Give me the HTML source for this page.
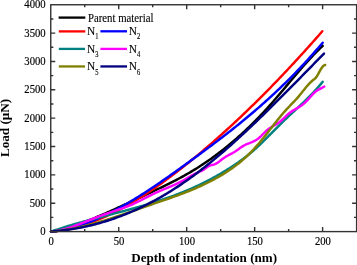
<!DOCTYPE html>
<html><head><meta charset="utf-8"><style>
html,body{margin:0;padding:0;background:#fff;width:357px;height:265px;overflow:hidden}
svg{display:block;will-change:transform}
text{font-family:"Liberation Serif",serif;fill:#000}
</style></head><body>
<svg width="357" height="265" viewBox="0 0 357 265">
<rect width="357" height="265" fill="#fff"/>
<g fill="none" stroke-width="2.45" stroke-linejoin="round" stroke-linecap="round">
<path d="M51.00,231.52 L52.50,231.37 L54.00,231.20 L55.50,230.98 L57.00,230.74 L58.50,230.46 L60.00,230.15 L61.50,229.82 L63.00,229.46 L64.50,229.07 L66.00,228.65 L67.50,228.22 L69.00,227.76 L70.50,227.28 L72.00,226.79 L73.50,226.27 L75.00,225.74 L76.50,225.20 L78.00,224.64 L79.50,224.07 L81.00,223.50 L82.50,222.91 L84.00,222.31 L85.50,221.71 L87.00,221.11 L88.50,220.50 L90.00,219.88 L91.50,219.26 L93.00,218.64 L94.50,218.01 L96.00,217.38 L97.50,216.74 L99.00,216.10 L100.50,215.45 L102.00,214.81 L103.50,214.15 L105.00,213.50 L106.50,212.84 L108.00,212.18 L109.50,211.51 L111.00,210.84 L112.50,210.17 L114.00,209.50 L115.50,208.82 L117.00,208.14 L118.50,207.46 L120.00,206.78 L121.50,206.09 L123.00,205.41 L124.50,204.72 L126.00,204.02 L127.50,203.33 L129.00,202.64 L130.50,201.94 L132.00,201.24 L133.50,200.54 L135.00,199.84 L136.50,199.14 L138.00,198.44 L139.50,197.73 L141.00,197.03 L142.50,196.32 L144.00,195.61 L145.50,194.90 L147.00,194.20 L148.50,193.49 L150.00,192.78 L151.50,192.07 L153.00,191.36 L154.50,190.65 L156.00,189.94 L157.50,189.22 L159.00,188.51 L160.50,187.79 L162.00,187.07 L163.50,186.34 L165.00,185.61 L166.50,184.88 L168.00,184.14 L169.50,183.39 L171.00,182.64 L172.50,181.89 L174.00,181.12 L175.50,180.35 L177.00,179.57 L178.50,178.77 L180.00,177.97 L181.50,177.16 L183.00,176.34 L184.50,175.51 L186.00,174.67 L187.50,173.81 L189.00,172.95 L190.50,172.07 L192.00,171.17 L193.50,170.27 L195.00,169.35 L196.50,168.42 L198.00,167.48 L199.50,166.52 L201.00,165.55 L202.50,164.56 L204.00,163.57 L205.50,162.56 L207.00,161.53 L208.50,160.50 L210.00,159.45 L211.50,158.38 L213.00,157.30 L214.50,156.21 L216.00,155.10 L217.50,153.98 L219.00,152.85 L220.50,151.70 L222.00,150.54 L223.50,149.36 L225.00,148.16 L226.50,146.96 L228.00,145.73 L229.50,144.50 L231.00,143.25 L232.50,141.98 L234.00,140.70 L235.50,139.40 L237.00,138.09 L238.50,136.76 L240.00,135.42 L241.50,134.06 L243.00,132.68 L244.50,131.29 L246.00,129.89 L247.50,128.46 L249.00,127.03 L250.50,125.57 L252.00,124.10 L253.50,122.61 L255.00,121.11 L256.50,119.59 L258.00,118.06 L259.50,116.50 L261.00,114.93 L262.50,113.35 L264.00,111.74 L265.50,110.12 L267.00,108.49 L268.50,106.83 L270.00,105.16 L271.50,103.47 L273.00,101.77 L274.50,100.04 L276.00,98.31 L277.50,96.56 L279.00,94.80 L280.50,93.04 L282.00,91.26 L283.50,89.48 L285.00,87.70 L286.50,85.91 L288.00,84.12 L289.50,82.33 L291.00,80.54 L292.50,78.76 L294.00,76.98 L295.50,75.21 L297.00,73.44 L298.50,71.69 L300.00,69.94 L301.50,68.21 L303.00,66.49 L304.50,64.79 L306.00,63.11 L307.50,61.44 L309.00,59.80 L310.50,58.17 L312.00,56.57 L313.50,54.99 L315.00,53.44 L316.50,51.91 L318.00,50.40 L319.50,48.93 L321.00,47.49 L322.50,46.07 L322.70,45.89" stroke="#000000"/>
<path d="M51.00,231.61 L52.50,231.48 L54.00,231.33 L55.50,231.16 L57.00,230.97 L58.50,230.77 L60.00,230.55 L61.50,230.32 L63.00,230.07 L64.50,229.80 L66.00,229.51 L67.50,229.21 L69.00,228.89 L70.50,228.56 L72.00,228.21 L73.50,227.85 L75.00,227.47 L76.50,227.07 L78.00,226.66 L79.50,226.23 L81.00,225.79 L82.50,225.33 L84.00,224.86 L85.50,224.38 L87.00,223.88 L88.50,223.36 L90.00,222.83 L91.50,222.29 L93.00,221.73 L94.50,221.16 L96.00,220.57 L97.50,219.97 L99.00,219.36 L100.50,218.73 L102.00,218.09 L103.50,217.44 L105.00,216.77 L106.50,216.09 L108.00,215.40 L109.50,214.69 L111.00,213.97 L112.50,213.24 L114.00,212.50 L115.50,211.74 L117.00,210.97 L118.50,210.19 L120.00,209.40 L121.50,208.60 L123.00,207.78 L124.50,206.96 L126.00,206.12 L127.50,205.27 L129.00,204.41 L130.50,203.54 L132.00,202.65 L133.50,201.76 L135.00,200.86 L136.50,199.94 L138.00,199.02 L139.50,198.08 L141.00,197.13 L142.50,196.18 L144.00,195.21 L145.50,194.24 L147.00,193.25 L148.50,192.26 L150.00,191.25 L151.50,190.24 L153.00,189.22 L154.50,188.18 L156.00,187.14 L157.50,186.09 L159.00,185.03 L160.50,183.97 L162.00,182.89 L163.50,181.81 L165.00,180.72 L166.50,179.61 L168.00,178.51 L169.50,177.39 L171.00,176.27 L172.50,175.13 L174.00,174.00 L175.50,172.85 L177.00,171.70 L178.50,170.53 L180.00,169.37 L181.50,168.19 L183.00,167.01 L184.50,165.82 L186.00,164.63 L187.50,163.43 L189.00,162.22 L190.50,161.01 L192.00,159.79 L193.50,158.56 L195.00,157.33 L196.50,156.09 L198.00,154.85 L199.50,153.59 L201.00,152.34 L202.50,151.07 L204.00,149.81 L205.50,148.53 L207.00,147.25 L208.50,145.96 L210.00,144.67 L211.50,143.37 L213.00,142.06 L214.50,140.75 L216.00,139.43 L217.50,138.10 L219.00,136.77 L220.50,135.44 L222.00,134.09 L223.50,132.75 L225.00,131.39 L226.50,130.03 L228.00,128.66 L229.50,127.29 L231.00,125.91 L232.50,124.53 L234.00,123.14 L235.50,121.74 L237.00,120.34 L238.50,118.93 L240.00,117.52 L241.50,116.10 L243.00,114.67 L244.50,113.24 L246.00,111.80 L247.50,110.36 L249.00,108.91 L250.50,107.46 L252.00,105.99 L253.50,104.53 L255.00,103.06 L256.50,101.58 L258.00,100.09 L259.50,98.61 L261.00,97.11 L262.50,95.61 L264.00,94.10 L265.50,92.59 L267.00,91.07 L268.50,89.55 L270.00,88.02 L271.50,86.49 L273.00,84.95 L274.50,83.40 L276.00,81.85 L277.50,80.29 L279.00,78.73 L280.50,77.16 L282.00,75.59 L283.50,74.01 L285.00,72.42 L286.50,70.83 L288.00,69.24 L289.50,67.63 L291.00,66.03 L292.50,64.42 L294.00,62.80 L295.50,61.17 L297.00,59.55 L298.50,57.91 L300.00,56.27 L301.50,54.63 L303.00,52.98 L304.50,51.32 L306.00,49.66 L307.50,48.00 L309.00,46.32 L310.50,44.65 L312.00,42.97 L313.50,41.28 L315.00,39.59 L316.50,37.89 L318.00,36.19 L319.50,34.48 L321.00,32.76 L322.30,31.27" stroke="#ff0000"/>
<path d="M51.00,231.63 L52.50,231.47 L54.00,231.30 L55.50,231.10 L57.00,230.89 L58.50,230.65 L60.00,230.40 L61.50,230.13 L63.00,229.85 L64.50,229.54 L66.00,229.22 L67.50,228.88 L69.00,228.52 L70.50,228.15 L72.00,227.76 L73.50,227.35 L75.00,226.93 L76.50,226.49 L78.00,226.03 L79.50,225.56 L81.00,225.07 L82.50,224.57 L84.00,224.05 L85.50,223.52 L87.00,222.97 L88.50,222.41 L90.00,221.83 L91.50,221.24 L93.00,220.63 L94.50,220.02 L96.00,219.38 L97.50,218.74 L99.00,218.08 L100.50,217.41 L102.00,216.72 L103.50,216.03 L105.00,215.32 L106.50,214.59 L108.00,213.86 L109.50,213.11 L111.00,212.36 L112.50,211.59 L114.00,210.81 L115.50,210.02 L117.00,209.22 L118.50,208.40 L120.00,207.58 L121.50,206.75 L123.00,205.91 L124.50,205.05 L126.00,204.19 L127.50,203.32 L129.00,202.44 L130.50,201.55 L132.00,200.65 L133.50,199.74 L135.00,198.83 L136.50,197.90 L138.00,196.97 L139.50,196.03 L141.00,195.08 L142.50,194.13 L144.00,193.17 L145.50,192.20 L147.00,191.22 L148.50,190.24 L150.00,189.25 L151.50,188.26 L153.00,187.25 L154.50,186.25 L156.00,185.24 L157.50,184.22 L159.00,183.19 L160.50,182.17 L162.00,181.13 L163.50,180.10 L165.00,179.05 L166.50,178.01 L168.00,176.96 L169.50,175.90 L171.00,174.85 L172.50,173.78 L174.00,172.72 L175.50,171.65 L177.00,170.58 L178.50,169.51 L180.00,168.43 L181.50,167.36 L183.00,166.28 L184.50,165.20 L186.00,164.11 L187.50,163.03 L189.00,161.94 L190.50,160.86 L192.00,159.77 L193.50,158.68 L195.00,157.58 L196.50,156.49 L198.00,155.39 L199.50,154.29 L201.00,153.19 L202.50,152.09 L204.00,150.98 L205.50,149.87 L207.00,148.76 L208.50,147.64 L210.00,146.52 L211.50,145.40 L213.00,144.27 L214.50,143.14 L216.00,142.01 L217.50,140.87 L219.00,139.73 L220.50,138.59 L222.00,137.43 L223.50,136.28 L225.00,135.12 L226.50,133.95 L228.00,132.78 L229.50,131.61 L231.00,130.43 L232.50,129.24 L234.00,128.05 L235.50,126.86 L237.00,125.65 L238.50,124.45 L240.00,123.23 L241.50,122.01 L243.00,120.78 L244.50,119.55 L246.00,118.31 L247.50,117.06 L249.00,115.81 L250.50,114.55 L252.00,113.28 L253.50,112.00 L255.00,110.72 L256.50,109.43 L258.00,108.13 L259.50,106.82 L261.00,105.51 L262.50,104.19 L264.00,102.85 L265.50,101.51 L267.00,100.17 L268.50,98.81 L270.00,97.44 L271.50,96.07 L273.00,94.68 L274.50,93.29 L276.00,91.89 L277.50,90.48 L279.00,89.05 L280.50,87.62 L282.00,86.18 L283.50,84.73 L285.00,83.26 L286.50,81.79 L288.00,80.31 L289.50,78.81 L291.00,77.31 L292.50,75.79 L294.00,74.27 L295.50,72.73 L297.00,71.18 L298.50,69.62 L300.00,68.04 L301.50,66.46 L303.00,64.86 L304.50,63.25 L306.00,61.63 L307.50,60.00 L309.00,58.35 L310.50,56.69 L312.00,55.02 L313.50,53.33 L315.00,51.64 L316.50,49.92 L318.00,48.20 L319.50,46.46 L321.00,44.71 L322.50,42.95 L322.70,42.71" stroke="#0000ff"/>
<path d="M51.00,231.55 L52.50,231.04 L54.00,230.53 L55.50,230.03 L57.00,229.54 L58.50,229.05 L60.00,228.57 L61.50,228.09 L63.00,227.62 L64.50,227.15 L66.00,226.69 L67.50,226.23 L69.00,225.78 L70.50,225.33 L72.00,224.89 L73.50,224.45 L75.00,224.02 L76.50,223.59 L78.00,223.16 L79.50,222.74 L81.00,222.32 L82.50,221.90 L84.00,221.49 L85.50,221.07 L87.00,220.67 L88.50,220.26 L90.00,219.86 L91.50,219.46 L93.00,219.06 L94.50,218.66 L96.00,218.26 L97.50,217.87 L99.00,217.47 L100.50,217.08 L102.00,216.69 L103.50,216.30 L105.00,215.91 L106.50,215.52 L108.00,215.13 L109.50,214.74 L111.00,214.35 L112.50,213.96 L114.00,213.57 L115.50,213.18 L117.00,212.79 L118.50,212.40 L120.00,212.00 L121.50,211.61 L123.00,211.21 L124.50,210.81 L126.00,210.41 L127.50,210.01 L129.00,209.60 L130.50,209.19 L132.00,208.79 L133.50,208.37 L135.00,207.96 L136.50,207.54 L138.00,207.12 L139.50,206.69 L141.00,206.26 L142.50,205.83 L144.00,205.39 L145.50,204.95 L147.00,204.51 L148.50,204.06 L150.00,203.60 L151.50,203.14 L153.00,202.68 L154.50,202.21 L156.00,201.73 L157.50,201.25 L159.00,200.76 L160.50,200.27 L162.00,199.77 L163.50,199.27 L165.00,198.76 L166.50,198.24 L168.00,197.72 L169.50,197.18 L171.00,196.65 L172.50,196.10 L174.00,195.55 L175.50,194.98 L177.00,194.42 L178.50,193.84 L180.00,193.25 L181.50,192.66 L183.00,192.06 L184.50,191.45 L186.00,190.83 L187.50,190.20 L189.00,189.56 L190.50,188.91 L192.00,188.26 L193.50,187.59 L195.00,186.91 L196.50,186.23 L198.00,185.53 L199.50,184.82 L201.00,184.10 L202.50,183.37 L204.00,182.63 L205.50,181.88 L207.00,181.12 L208.50,180.34 L210.00,179.56 L211.50,178.76 L213.00,177.95 L214.50,177.13 L216.00,176.29 L217.50,175.44 L219.00,174.58 L220.50,173.71 L222.00,172.82 L223.50,171.92 L225.00,171.01 L226.50,170.08 L228.00,169.14 L229.50,168.18 L231.00,167.21 L232.50,166.23 L234.00,165.23 L235.50,164.21 L237.00,163.18 L238.50,162.14 L240.00,161.08 L241.50,160.00 L243.00,158.90 L244.50,157.78 L246.00,156.63 L247.50,155.46 L249.00,154.27 L250.50,153.04 L252.00,151.79 L253.50,150.50 L255.00,149.18 L256.50,147.83 L258.00,146.44 L259.50,145.03 L261.00,143.59 L262.50,142.13 L264.00,140.65 L265.50,139.16 L267.00,137.66 L268.50,136.15 L270.00,134.63 L271.50,133.12 L273.00,131.61 L274.50,130.10 L276.00,128.59 L277.50,127.09 L279.00,125.60 L280.50,124.11 L282.00,122.64 L283.50,121.17 L285.00,119.71 L286.50,118.27 L288.00,116.84 L289.50,115.42 L291.00,114.02 L292.50,112.62 L294.00,111.23 L295.50,109.84 L297.00,108.45 L298.50,107.06 L300.00,105.66 L301.50,104.26 L303.00,102.84 L304.50,101.40 L306.00,99.94 L307.50,98.47 L309.00,96.97 L310.50,95.45 L312.00,93.89 L313.50,92.31 L315.00,90.70 L316.50,89.05 L318.00,87.37 L319.50,85.65 L321.00,83.88 L322.50,82.08 L322.70,81.83" stroke="#008080"/>
<path d="M51.00,231.48 L52.50,231.35 L54.00,231.18 L55.50,230.98 L57.00,230.74 L58.50,230.46 L60.00,230.16 L61.50,229.83 L63.00,229.47 L64.50,229.08 L66.00,228.67 L67.50,228.23 L69.00,227.78 L70.50,227.30 L72.00,226.80 L73.50,226.29 L75.00,225.76 L76.50,225.22 L78.00,224.66 L79.50,224.09 L81.00,223.52 L82.50,222.93 L84.00,222.34 L85.50,221.74 L87.00,221.15 L88.50,220.54 L90.00,219.94 L91.50,219.34 L93.00,218.75 L94.50,218.15 L96.00,217.57 L97.50,216.99 L99.00,216.42 L100.50,215.86 L102.00,215.31 L103.50,214.77 L105.00,214.25 L106.50,213.73 L108.00,213.22 L109.50,212.71 L111.00,212.21 L112.50,211.70 L114.00,211.20 L115.50,210.69 L117.00,210.19 L118.50,209.67 L120.00,209.15 L121.50,208.62 L123.00,208.08 L124.50,207.53 L126.00,206.96 L127.50,206.38 L129.00,205.78 L130.50,205.16 L132.00,204.52 L133.50,203.86 L135.00,203.17 L136.50,202.46 L138.00,201.73 L139.50,200.98 L141.00,200.22 L142.50,199.44 L144.00,198.67 L145.50,197.89 L147.00,197.11 L148.50,196.34 L150.00,195.58 L151.50,194.84 L153.00,194.12 L154.50,193.41 L156.00,192.73 L157.50,192.05 L159.00,191.40 L160.50,190.75 L162.00,190.10 L163.50,189.47 L165.00,188.84 L166.50,188.21 L168.00,187.58 L169.50,186.95 L171.00,186.31 L172.50,185.67 L174.00,185.01 L175.50,184.35 L177.00,183.66 L178.50,182.96 L180.00,182.22 L181.50,181.45 L183.00,180.64 L184.50,179.78 L186.00,178.90 L187.50,177.99 L189.00,177.09 L190.50,176.19 L192.00,175.32 L193.50,174.50 L195.00,173.72 L196.50,173.02 L198.00,172.38 L199.50,171.75 L201.00,171.08 L202.50,170.32 L204.00,169.42 L205.50,168.35 L207.00,167.24 L208.50,166.24 L210.00,165.49 L211.50,165.07 L213.00,164.78 L214.50,164.33 L216.00,163.62 L217.50,162.70 L219.00,161.63 L220.50,160.48 L222.00,159.31 L223.50,158.20 L225.00,157.19 L226.50,156.29 L228.00,155.45 L229.50,154.65 L231.00,153.86 L232.50,153.05 L234.00,152.19 L235.50,151.25 L237.00,150.23 L238.50,149.18 L240.00,148.12 L241.50,147.08 L243.00,146.11 L244.50,145.24 L246.00,144.49 L247.50,143.85 L249.00,143.28 L250.50,142.72 L252.00,142.12 L253.50,141.45 L255.00,140.69 L256.50,139.81 L258.00,138.77 L259.50,137.51 L261.00,136.11 L262.50,134.61 L264.00,133.09 L265.50,131.61 L267.00,130.24 L268.50,129.04 L270.00,127.97 L271.50,127.00 L273.00,126.10 L274.50,125.23 L276.00,124.34 L277.50,123.41 L279.00,122.39 L280.50,121.25 L282.00,119.95 L283.50,118.53 L285.00,117.05 L286.50,115.59 L288.00,114.22 L289.50,112.98 L291.00,111.88 L292.50,110.88 L294.00,109.96 L295.50,109.08 L297.00,108.22 L298.50,107.35 L300.00,106.44 L301.50,105.45 L303.00,104.35 L304.50,103.11 L306.00,101.69 L307.50,100.11 L309.00,98.45 L310.50,96.75 L312.00,95.08 L313.50,93.51 L315.00,92.09 L316.50,90.88 L318.00,89.89 L319.50,89.06 L321.00,88.30 L322.50,87.55 L324.00,86.73 L324.30,86.55" stroke="#ff00ff"/>
<path d="M51.00,231.54 L52.50,231.43 L54.00,231.30 L55.50,231.16 L57.00,231.01 L58.50,230.84 L60.00,230.66 L61.50,230.46 L63.00,230.26 L64.50,230.04 L66.00,229.81 L67.50,229.56 L69.00,229.31 L70.50,229.04 L72.00,228.77 L73.50,228.48 L75.00,228.18 L76.50,227.87 L78.00,227.55 L79.50,227.22 L81.00,226.88 L82.50,226.53 L84.00,226.18 L85.50,225.81 L87.00,225.43 L88.50,225.05 L90.00,224.66 L91.50,224.26 L93.00,223.85 L94.50,223.44 L96.00,223.01 L97.50,222.58 L99.00,222.15 L100.50,221.70 L102.00,221.25 L103.50,220.80 L105.00,220.34 L106.50,219.87 L108.00,219.40 L109.50,218.92 L111.00,218.44 L112.50,217.95 L114.00,217.46 L115.50,216.97 L117.00,216.47 L118.50,215.97 L120.00,215.46 L121.50,214.95 L123.00,214.44 L124.50,213.92 L126.00,213.41 L127.50,212.89 L129.00,212.37 L130.50,211.84 L132.00,211.32 L133.50,210.79 L135.00,210.26 L136.50,209.74 L138.00,209.21 L139.50,208.68 L141.00,208.15 L142.50,207.63 L144.00,207.10 L145.50,206.57 L147.00,206.04 L148.50,205.52 L150.00,205.00 L151.50,204.48 L153.00,203.96 L154.50,203.44 L156.00,202.92 L157.50,202.41 L159.00,201.89 L160.50,201.38 L162.00,200.86 L163.50,200.34 L165.00,199.82 L166.50,199.30 L168.00,198.78 L169.50,198.26 L171.00,197.73 L172.50,197.20 L174.00,196.66 L175.50,196.12 L177.00,195.58 L178.50,195.03 L180.00,194.47 L181.50,193.91 L183.00,193.35 L184.50,192.77 L186.00,192.19 L187.50,191.60 L189.00,191.00 L190.50,190.39 L192.00,189.77 L193.50,189.15 L195.00,188.51 L196.50,187.86 L198.00,187.21 L199.50,186.54 L201.00,185.86 L202.50,185.16 L204.00,184.46 L205.50,183.74 L207.00,183.01 L208.50,182.26 L210.00,181.50 L211.50,180.72 L213.00,179.93 L214.50,179.13 L216.00,178.30 L217.50,177.46 L219.00,176.61 L220.50,175.73 L222.00,174.84 L223.50,173.93 L225.00,172.99 L226.50,172.04 L228.00,171.06 L229.50,170.06 L231.00,169.03 L232.50,167.97 L234.00,166.88 L235.50,165.76 L237.00,164.61 L238.50,163.43 L240.00,162.22 L241.50,160.96 L243.00,159.67 L244.50,158.35 L246.00,156.98 L247.50,155.57 L249.00,154.12 L250.50,152.62 L252.00,151.08 L253.50,149.49 L255.00,147.85 L256.50,146.17 L258.00,144.44 L259.50,142.67 L261.00,140.87 L262.50,139.03 L264.00,137.17 L265.50,135.29 L267.00,133.40 L268.50,131.49 L270.00,129.57 L271.50,127.65 L273.00,125.74 L274.50,123.83 L276.00,121.94 L277.50,120.06 L279.00,118.21 L280.50,116.38 L282.00,114.58 L283.50,112.82 L285.00,111.10 L286.50,109.43 L288.00,107.81 L289.50,106.23 L291.00,104.69 L292.50,103.16 L294.00,101.61 L295.50,100.02 L297.00,98.38 L298.50,96.64 L300.00,94.82 L301.50,92.95 L303.00,91.06 L304.50,89.17 L306.00,87.34 L307.50,85.57 L309.00,83.91 L310.50,82.36 L312.00,80.99 L313.50,79.83 L315.00,78.64 L316.50,76.90 L318.00,74.40 L319.50,71.58 L321.00,68.93 L322.50,66.76 L324.00,65.36 L325.20,64.98" stroke="#808000"/>
<path d="M51.00,231.55 L52.50,231.44 L54.00,231.32 L55.50,231.19 L57.00,231.05 L58.50,230.90 L60.00,230.75 L61.50,230.58 L63.00,230.41 L64.50,230.22 L66.00,230.02 L67.50,229.82 L69.00,229.60 L70.50,229.38 L72.00,229.15 L73.50,228.90 L75.00,228.65 L76.50,228.38 L78.00,228.11 L79.50,227.83 L81.00,227.53 L82.50,227.23 L84.00,226.92 L85.50,226.59 L87.00,226.26 L88.50,225.92 L90.00,225.56 L91.50,225.20 L93.00,224.83 L94.50,224.44 L96.00,224.05 L97.50,223.65 L99.00,223.23 L100.50,222.81 L102.00,222.37 L103.50,221.93 L105.00,221.47 L106.50,221.01 L108.00,220.53 L109.50,220.05 L111.00,219.55 L112.50,219.04 L114.00,218.53 L115.50,218.00 L117.00,217.46 L118.50,216.91 L120.00,216.35 L121.50,215.79 L123.00,215.21 L124.50,214.61 L126.00,214.01 L127.50,213.40 L129.00,212.78 L130.50,212.15 L132.00,211.50 L133.50,210.85 L135.00,210.18 L136.50,209.51 L138.00,208.82 L139.50,208.12 L141.00,207.42 L142.50,206.70 L144.00,205.97 L145.50,205.23 L147.00,204.48 L148.50,203.71 L150.00,202.94 L151.50,202.16 L153.00,201.36 L154.50,200.55 L156.00,199.74 L157.50,198.91 L159.00,198.07 L160.50,197.22 L162.00,196.36 L163.50,195.48 L165.00,194.60 L166.50,193.70 L168.00,192.80 L169.50,191.88 L171.00,190.95 L172.50,190.01 L174.00,189.06 L175.50,188.09 L177.00,187.12 L178.50,186.13 L180.00,185.14 L181.50,184.13 L183.00,183.11 L184.50,182.08 L186.00,181.03 L187.50,179.98 L189.00,178.91 L190.50,177.84 L192.00,176.75 L193.50,175.65 L195.00,174.54 L196.50,173.42 L198.00,172.28 L199.50,171.14 L201.00,169.99 L202.50,168.83 L204.00,167.65 L205.50,166.47 L207.00,165.28 L208.50,164.07 L210.00,162.86 L211.50,161.64 L213.00,160.41 L214.50,159.17 L216.00,157.92 L217.50,156.66 L219.00,155.40 L220.50,154.12 L222.00,152.84 L223.50,151.55 L225.00,150.25 L226.50,148.94 L228.00,147.63 L229.50,146.30 L231.00,144.97 L232.50,143.63 L234.00,142.29 L235.50,140.94 L237.00,139.58 L238.50,138.21 L240.00,136.84 L241.50,135.46 L243.00,134.07 L244.50,132.68 L246.00,131.28 L247.50,129.88 L249.00,128.47 L250.50,127.05 L252.00,125.63 L253.50,124.20 L255.00,122.77 L256.50,121.33 L258.00,119.89 L259.50,118.44 L261.00,116.99 L262.50,115.53 L264.00,114.07 L265.50,112.61 L267.00,111.14 L268.50,109.66 L270.00,108.18 L271.50,106.70 L273.00,105.22 L274.50,103.73 L276.00,102.24 L277.50,100.74 L279.00,99.24 L280.50,97.74 L282.00,96.24 L283.50,94.73 L285.00,93.22 L286.50,91.71 L288.00,90.20 L289.50,88.68 L291.00,87.16 L292.50,85.64 L294.00,84.12 L295.50,82.60 L297.00,81.08 L298.50,79.55 L300.00,78.02 L301.50,76.50 L303.00,74.97 L304.50,73.44 L306.00,71.91 L307.50,70.38 L309.00,68.85 L310.50,67.32 L312.00,65.79 L313.50,64.26 L315.00,62.73 L316.50,61.20 L318.00,59.67 L319.50,58.15 L321.00,56.62 L322.50,55.09 L324.00,53.57" stroke="#000080"/>
</g>
<g fill="none" stroke="#333" stroke-width="1.4">
<rect x="50.75" y="4.75" width="305.85" height="226.85"/>
<path d="M50.75,217.42h2.6M356.6,217.42h-2.6M50.75,203.24h4.5M356.6,203.24h-4.5M50.75,189.07h2.6M356.6,189.07h-2.6M50.75,174.89h4.5M356.6,174.89h-4.5M50.75,160.71h2.6M356.6,160.71h-2.6M50.75,146.53h4.5M356.6,146.53h-4.5M50.75,132.35h2.6M356.6,132.35h-2.6M50.75,118.17h4.5M356.6,118.17h-4.5M50.75,104.00h2.6M356.6,104.00h-2.6M50.75,89.82h4.5M356.6,89.82h-4.5M50.75,75.64h2.6M356.6,75.64h-2.6M50.75,61.46h4.5M356.6,61.46h-4.5M50.75,47.28h2.6M356.6,47.28h-2.6M50.75,33.11h4.5M356.6,33.11h-4.5M50.75,18.93h2.6M356.6,18.93h-2.6M84.73,231.6v-2.6M84.73,4.75v2.6M118.72,231.6v-4.5M118.72,4.75v4.5M152.70,231.6v-2.6M152.70,4.75v2.6M186.68,231.6v-4.5M186.68,4.75v4.5M220.67,231.6v-2.6M220.67,4.75v2.6M254.65,231.6v-4.5M254.65,4.75v4.5M288.63,231.6v-2.6M288.63,4.75v2.6M322.62,231.6v-4.5M322.62,4.75v4.5"/>
</g>
<g fill="none" stroke-width="2.3"><path d="M58.6,17.6H85.3" stroke="#000000"/><path d="M58.8,31.4H85.3" stroke="#ff0000"/><path d="M100.4,31.3H127.0" stroke="#0000ff"/><path d="M58.8,48.9H85.0" stroke="#008080"/><path d="M100.4,48.9H127.0" stroke="#ff00ff"/><path d="M58.8,66.45H85.0" stroke="#808000"/><path d="M100.4,66.45H127.0" stroke="#000080"/></g>
<g font-size="11" stroke="#000" stroke-width="0.15"><text transform="translate(45.7,235.20) scale(0.97,1.19)" text-anchor="end">0</text><text transform="translate(45.7,206.84) scale(0.97,1.19)" text-anchor="end">500</text><text transform="translate(45.7,178.49) scale(0.97,1.19)" text-anchor="end">1000</text><text transform="translate(45.7,150.13) scale(0.97,1.19)" text-anchor="end">1500</text><text transform="translate(45.7,121.77) scale(0.97,1.19)" text-anchor="end">2000</text><text transform="translate(45.7,93.42) scale(0.97,1.19)" text-anchor="end">2500</text><text transform="translate(45.7,65.06) scale(0.97,1.19)" text-anchor="end">3000</text><text transform="translate(45.7,36.71) scale(0.97,1.19)" text-anchor="end">3500</text><text transform="translate(45.7,8.35) scale(0.97,1.19)" text-anchor="end">4000</text><text transform="translate(51.05,245.3) scale(0.97,1.19)" text-anchor="middle">0</text><text transform="translate(119.02,245.3) scale(0.97,1.19)" text-anchor="middle">50</text><text transform="translate(186.98,245.3) scale(0.97,1.19)" text-anchor="middle">100</text><text transform="translate(254.95,245.3) scale(0.97,1.19)" text-anchor="middle">150</text><text transform="translate(322.92,245.3) scale(0.97,1.19)" text-anchor="middle">200</text></g>
<g font-size="11.4" stroke="#000" stroke-width="0.12"><text transform="translate(88.0,21.5) scale(0.944,1.16)">Parent material</text><text transform="translate(87.1,34.9) scale(1,1.18)">N<tspan font-size="6.5" dy="3.5">1</tspan></text><text transform="translate(128.7,34.9) scale(1,1.18)">N<tspan font-size="6.5" dy="3.5">2</tspan></text><text transform="translate(87.1,53.0) scale(1,1.18)">N<tspan font-size="6.5" dy="3.5">3</tspan></text><text transform="translate(128.7,53.0) scale(1,1.18)">N<tspan font-size="6.5" dy="3.5">4</tspan></text><text transform="translate(87.1,70.4) scale(1,1.18)">N<tspan font-size="6.5" dy="3.5">5</tspan></text><text transform="translate(128.7,70.4) scale(1,1.18)">N<tspan font-size="6.5" dy="3.5">6</tspan></text></g>
<text x="131.2" y="262.3" font-size="13.1" font-weight="bold">Depth of indentation (nm)</text>
<text transform="translate(9.0,157.1) rotate(-90) scale(1.015,1)" font-size="13" font-weight="bold">Load (μN)</text>
</svg>
</body></html>
